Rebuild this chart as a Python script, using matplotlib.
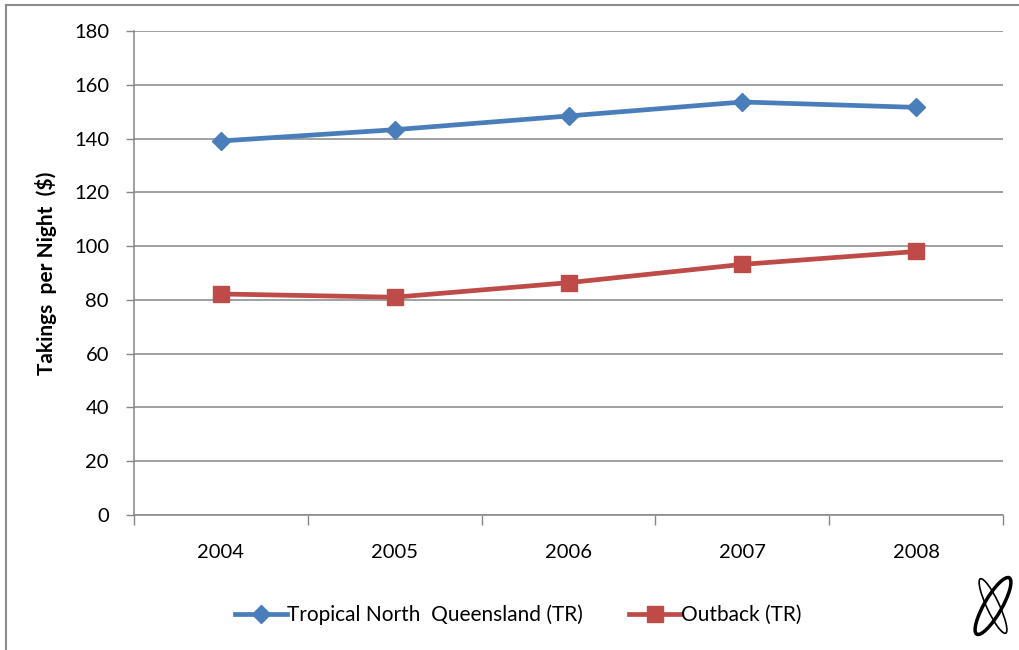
import matplotlib
matplotlib.use('Agg')
import matplotlib.pyplot as plt
import matplotlib.patches as mpatches
from matplotlib.lines import Line2D
import numpy as np

plt.rcParams['font.family'] = ['Lato', 'DejaVu Sans']

years = ['2004', '2005', '2006', '2007', '2008']
tnq = [139.1, 143.3, 148.4, 153.6, 151.6]
outback = [82.2, 81.0, 86.4, 93.2, 98.0]

blue = '#4A7EBB'
red = '#BE4B48'
grey = '#868686'

fig = plt.figure(figsize=(10.19, 6.5), dpi=100)
ax = fig.add_axes([134 / 1019, 135 / 650, 869 / 1019, 484 / 650])

x = np.arange(len(years))
ax.plot(x, tnq, color=blue, lw=3.4, marker='D', ms=9.5, mec=blue, mfc=blue,
        label='Tropical North  Queensland (TR)')
ax.plot(x, outback, color=red, lw=3.4, marker='s', ms=12, mec=red, mfc=red,
        label='Outback (TR)')

ax.set_xlim(-0.5, len(years) - 0.5)
ax.set_ylim(0, 180)
ax.set_yticks(range(0, 181, 20))
ax.tick_params(axis='y', labelsize=14.5, length=6, color=grey, width=1, pad=12)

# category ticks sit between the categories
ax.set_xticks(np.arange(-0.5, len(years), 1.0))
ax.set_xticklabels([])
ax.set_xticks(x, minor=True)
ax.set_xticklabels(years, minor=True)
ax.tick_params(axis='x', which='major', length=7, color=grey, width=1)
ax.tick_params(axis='x', which='minor', length=0, labelsize=14.5, pad=21)

ax.grid(axis='y', color=grey, lw=1.1)
ax.set_axisbelow(True)
for s in ['top', 'right']:
    ax.spines[s].set_visible(False)
for s in ['left', 'bottom']:
    ax.spines[s].set_color(grey)
    ax.spines[s].set_linewidth(1.1)

ax.set_ylabel('Takings  per Night  ($)', fontsize=15, fontweight='bold', labelpad=12)

fig.legend(loc='center', bbox_to_anchor=(518 / 1019, 35 / 650), ncol=2,
           frameon=False, fontsize=15, handlelength=2.5, handletextpad=0.0,
           columnspacing=2.2)

# outer chart frame
fig.add_artist(Line2D([6 / 1019, 6 / 1019], [0, 1 - 5 / 650], color='#8c8c8c', lw=1.5))
fig.add_artist(Line2D([6 / 1019, 1], [1 - 5 / 650, 1 - 5 / 650], color='#8c8c8c', lw=1.5))

# small logo mark in the lower right corner
lax = fig.add_axes([968 / 1019, 8 / 650, 50 / 1019, 72 / 650])
lax.set_xlim(-1, 1)
lax.set_ylim(-1.44, 1.44)
lax.axis('off')
lax.add_patch(mpatches.Ellipse((0, 0), 0.7, 2.6, angle=-30, fill=False, ec='black', lw=2.5))
lax.add_patch(mpatches.Ellipse((0, 0), 0.5, 2.4, angle=25, fill=False, ec='black', lw=1.2))

fig.savefig('out.png', dpi=100)
